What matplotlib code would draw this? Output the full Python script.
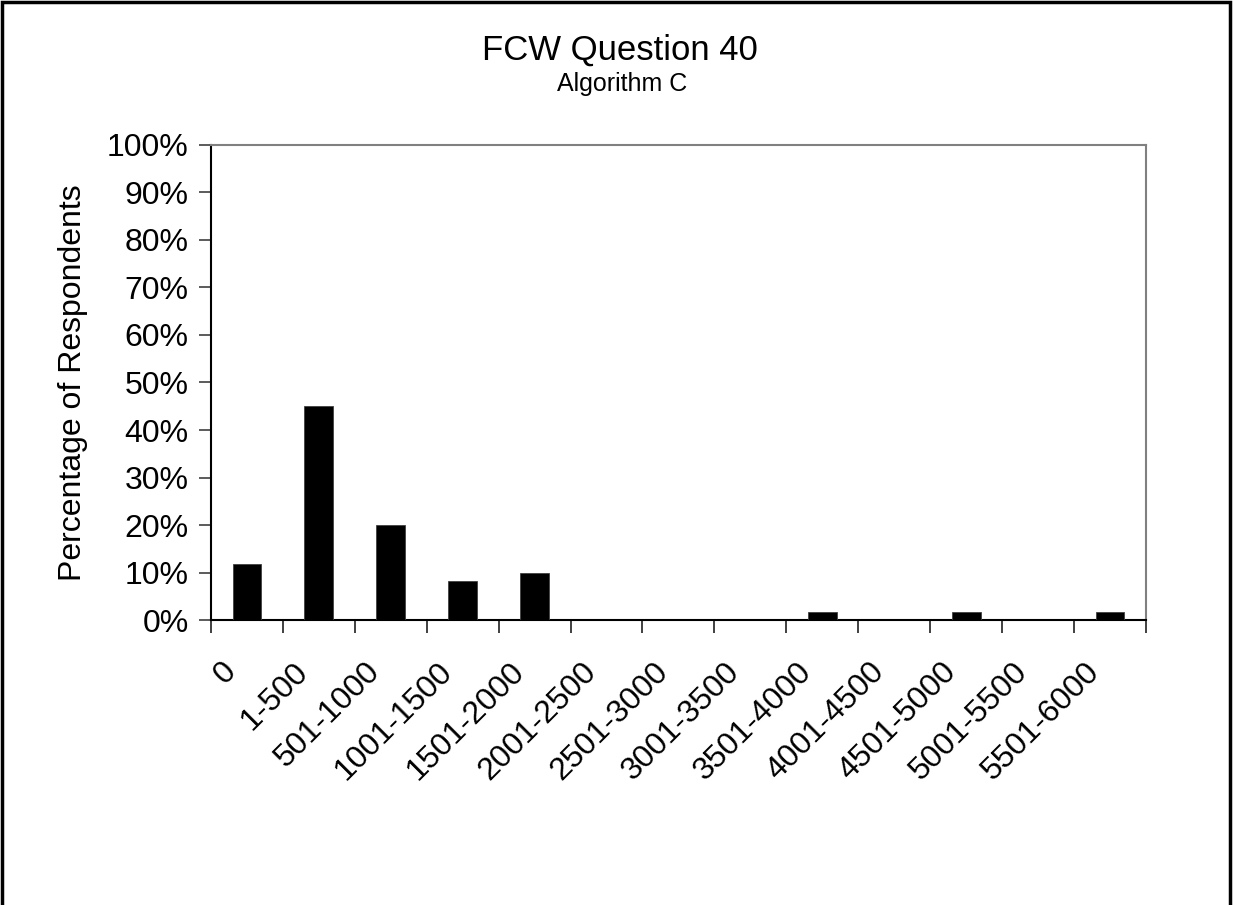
import numpy as np
import matplotlib.pyplot as plt
from matplotlib.patches import Rectangle
from matplotlib.ticker import PercentFormatter
from matplotlib.transforms import ScaledTranslation

plt.rcParams['font.family'] = ['Liberation Sans', 'DejaVu Sans']

# data
categories = ['0', '1-500', '501-1000', '1001-1500', '1501-2000', '2001-2500',
              '2501-3000', '3001-3500', '3501-4000', '4001-4500', '4501-5000',
              '5001-5500', '5501-6000']
pct = [11.7, 45.0, 20.0, 8.3, 10.0, 0, 0, 0, 1.7, 0, 1.7, 0, 1.7]

fig = plt.figure(figsize=(12.33, 9.05), dpi=100)
ax = fig.add_axes([0.1711, 0.3149, 0.7583, 0.5249])

x = np.arange(len(categories))
ax.bar(x, pct, width=0.4, color='black', edgecolor='#404040', linewidth=0.6, zorder=3)

ax.set_xlim(-0.5, len(categories) - 0.5)
ax.set_ylim(0, 100)
ax.set_yticks(np.arange(0, 101, 10))
ax.yaxis.set_major_formatter(PercentFormatter(decimals=0))

# ticks at category boundaries, labels at centres
ax.set_xticks(np.arange(-0.5, len(categories), 1.0))
ax.set_xticklabels([])
ax.set_xticks(x, minor=True)
ax.set_xticklabels(categories, minor=True, rotation=45, ha='right', va='center',
                   rotation_mode='anchor', fontsize=23)
ax.tick_params(axis='x', which='major', direction='out', length=9, width=1.2, color='#202020')
ax.tick_params(axis='x', which='minor', length=0, pad=34)
ax.tick_params(axis='y', direction='out', length=9, width=1.2, color='#404040', labelsize=23, pad=7)

# nudge the rotated labels left (after tick_params, which resets transforms)
shift = ScaledTranslation(-0.15, 0, fig.dpi_scale_trans)
for lab in ax.get_xticklabels(minor=True):
    lab.set_transform(lab.get_transform() + shift)

for s in ['top', 'right']:
    ax.spines[s].set_color('#808080')
    ax.spines[s].set_linewidth(1.5)
for s in ['left', 'bottom']:
    ax.spines[s].set_color('black')
    ax.spines[s].set_linewidth(1.5)

ax.set_ylabel('Percentage of Respondents', fontsize=23, labelpad=14)

fig.text(620 / 1233, 1 - 60 / 905, 'FCW Question 40', ha='center', va='baseline', fontsize=25)
fig.text(622 / 1233, 1 - 91 / 905, 'Algorithm C', ha='center', va='baseline', fontsize=18)

# outer chart frame, bottom edge is cut off in the original
fig.patches.append(Rectangle((2 / 1233, -0.05), 1228 / 1233, 1.05 - 2 / 905,
                             transform=fig.transFigure, fill=False,
                             edgecolor='black', linewidth=2.5))

fig.savefig('out.png', dpi=100)
